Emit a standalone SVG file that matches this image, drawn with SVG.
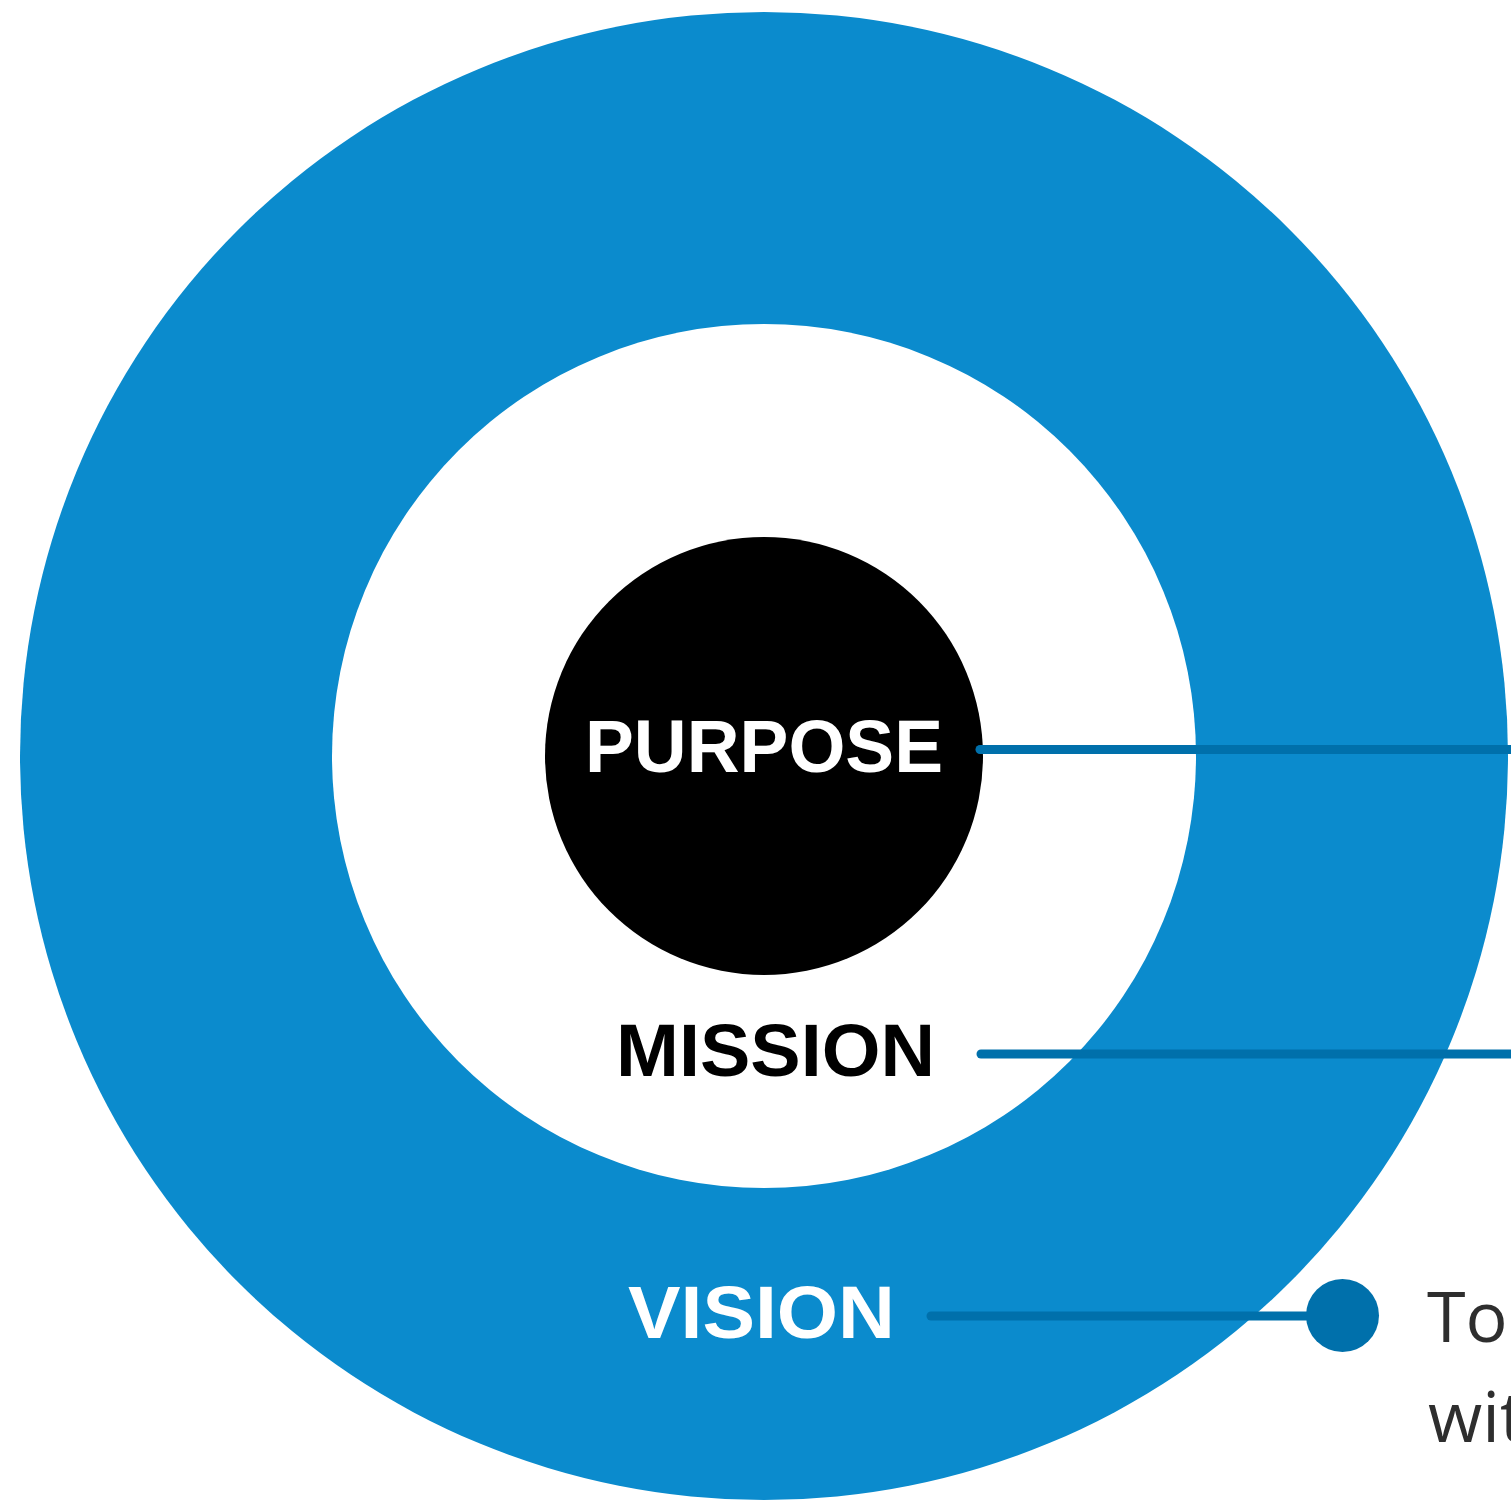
<svg xmlns="http://www.w3.org/2000/svg" width="1511" height="1500" viewBox="0 0 1511 1500">
<style>
.lbl{font-family:"Liberation Sans",Arial,sans-serif;font-weight:bold;font-size:74px}
.body{font-family:"Open Sans","Liberation Sans",sans-serif;font-weight:400;font-size:70px;fill:#2e2e2e}
.conn{stroke:#0070ab;stroke-width:9;stroke-linecap:round;fill:none}
</style>
<rect width="1511" height="1500" fill="#ffffff"/>
<g id="vision-ring"><circle cx="764" cy="756" r="744" fill="#0b8bcd"/></g>
<g id="mission-ring"><circle cx="764" cy="756" r="432" fill="#ffffff"/></g>
<g id="purpose-core"><circle cx="764" cy="756" r="219" fill="#000000"/></g>
<g id="connectors">
<line class="conn" x1="980" y1="749.5" x2="1520" y2="749.5"/>
<line class="conn" x1="981" y1="1054" x2="1520" y2="1054"/>
<line class="conn" x1="931" y1="1316" x2="1320" y2="1316"/>
<circle cx="1342.5" cy="1315.5" r="36.5" fill="#0070ab"/>
</g>
<g id="purpose"><text class="lbl" x="585" y="772" fill="#ffffff" textLength="358" lengthAdjust="spacingAndGlyphs">PURPOSE</text></g>
<g id="mission"><text class="lbl" x="616" y="1076" fill="#000000" textLength="319" lengthAdjust="spacingAndGlyphs">MISSION</text></g>
<g id="vision"><text class="lbl" x="628" y="1338" fill="#ffffff" textLength="267" lengthAdjust="spacingAndGlyphs">VISION</text></g>
<g id="vision-text">
<text class="body" x="1427" y="1342">To</text>
<text class="body" x="1428" y="1442">wit</text>
</g>
</svg>
